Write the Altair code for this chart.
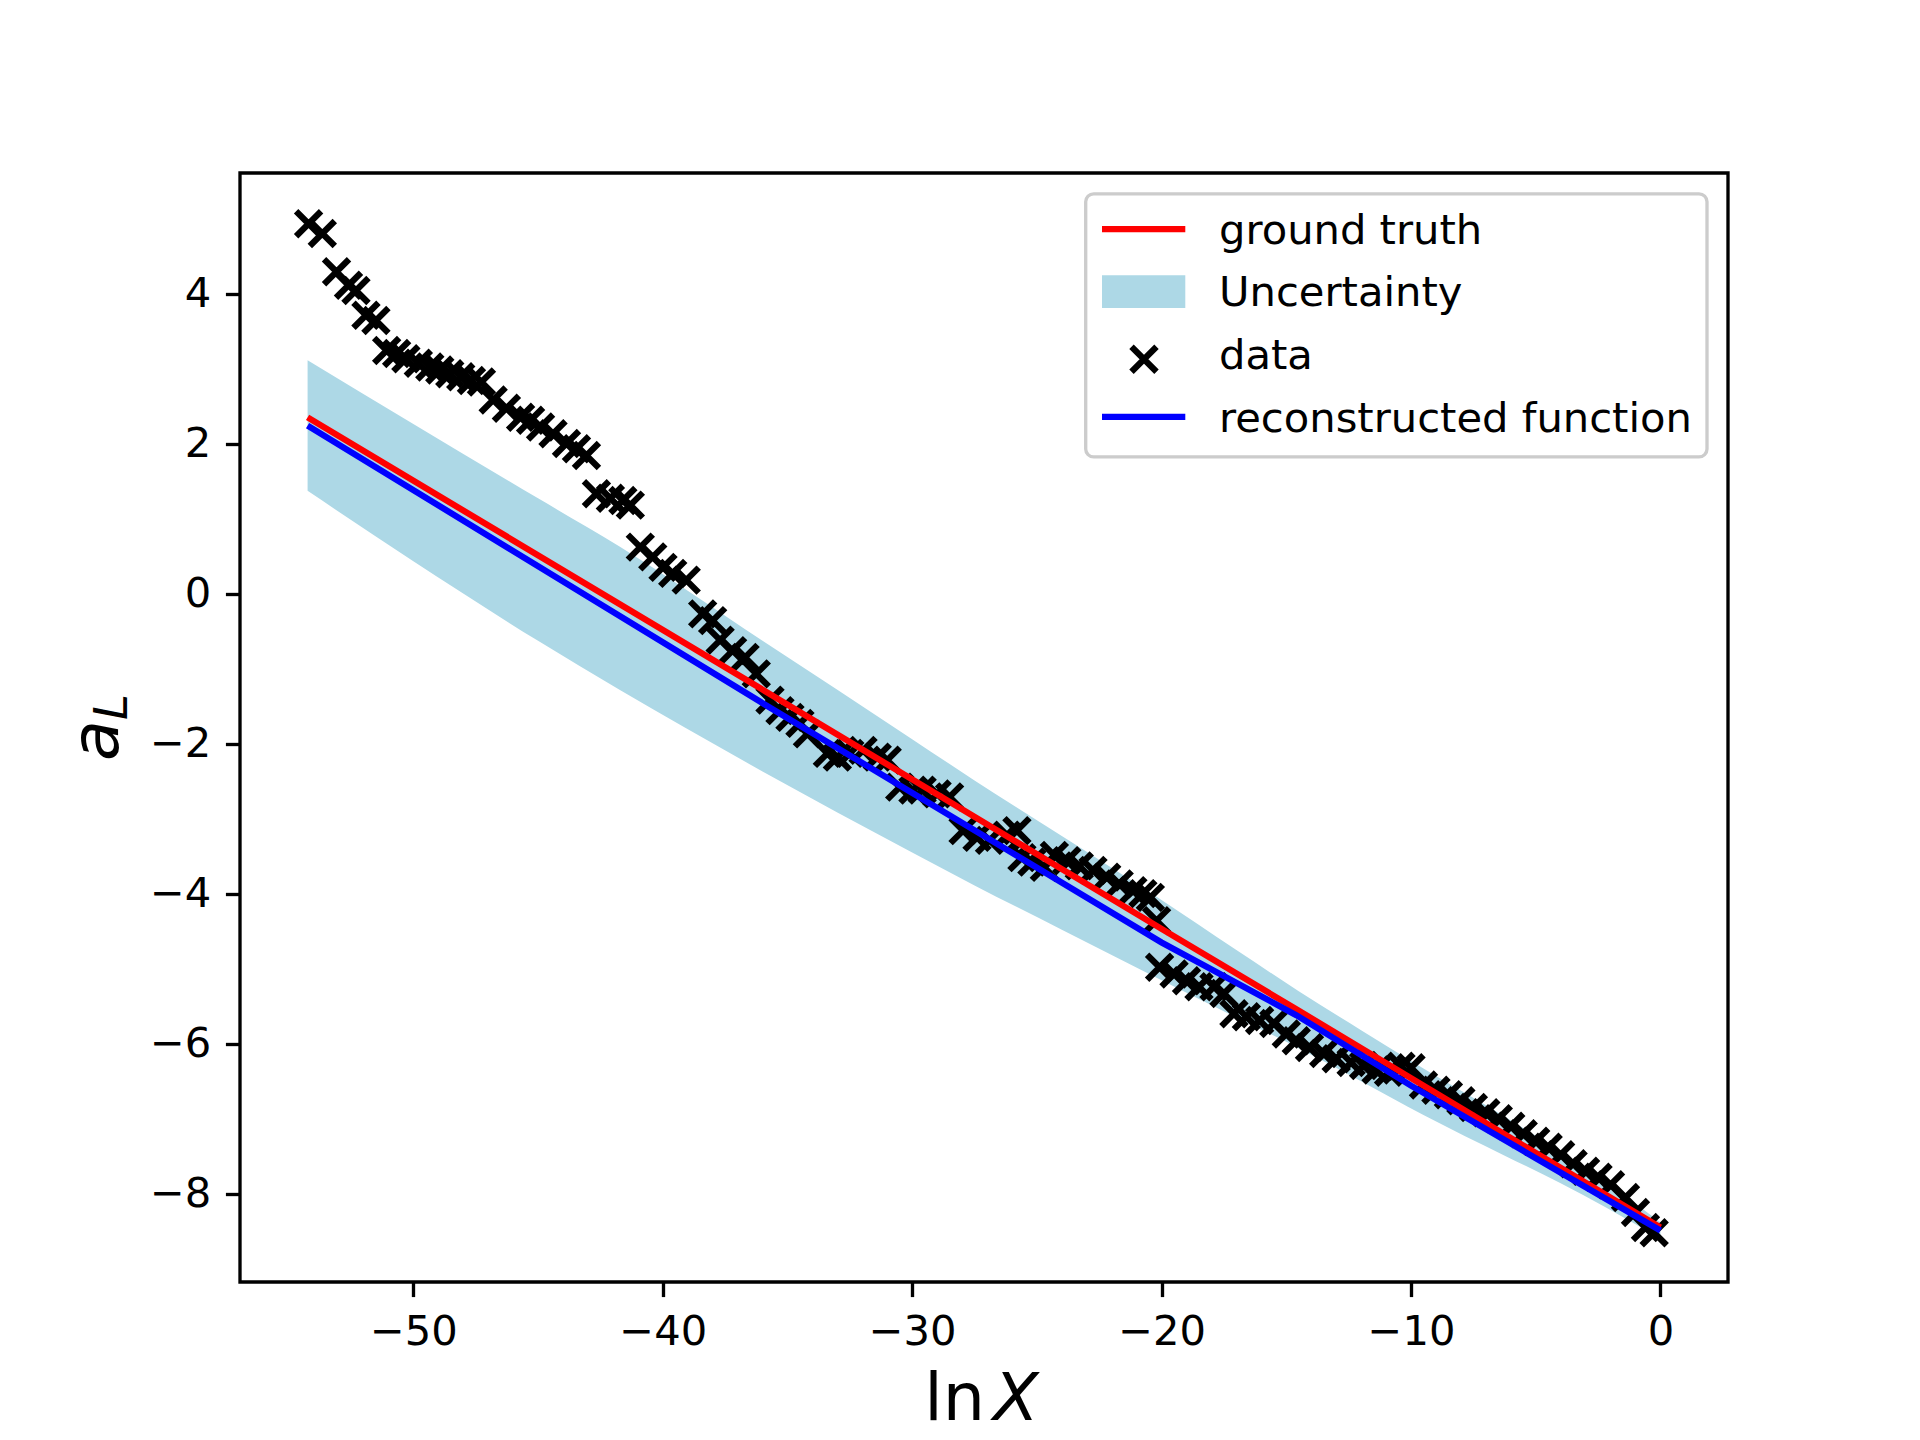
import altair as alt
import pandas as pd

# ---------------- data ----------------
data_x = [-54.20, -53.65, -53.08, -52.60, -52.30, -51.90, -51.50, -51.07, -50.67, -50.30,
          -49.80, -49.34, -48.94, -48.54, -48.10, -47.67, -47.27, -46.80, -46.27, -45.70,
          -45.30, -44.90, -44.40, -43.86, -43.46, -43.06, -42.66, -42.10, -41.60, -41.30,
          -40.90, -40.40, -39.99, -39.60, -39.06, -38.40, -38.00, -37.70, -37.20, -36.70,
          -36.25, -35.70, -35.30, -34.90, -34.50, -34.20, -33.40, -33.00, -32.50, -31.97,
          -31.40, -31.00, -30.50, -29.97, -29.60, -29.00, -28.50, -27.96, -27.40, -26.90,
          -26.20, -25.80, -25.60, -25.20, -24.70, -24.30, -23.80, -23.30, -22.75, -22.20,
          -21.70, -21.15, -20.75, -20.45, -20.20, -20.08, -19.50, -19.00, -18.50, -17.90,
          -17.50, -17.10, -16.60, -16.07, -15.50, -15.00, -14.60, -14.07, -13.50, -13.00,
          -12.40, -11.90, -11.40, -10.90, -10.40, -10.00, -9.50, -9.00, -8.50, -8.00,
          -7.50, -7.00, -6.50, -6.00, -5.50, -5.00, -4.50, -4.00, -3.50, -3.00,
          -2.50, -2.00, -1.40, -1.00, -0.60, -0.25]
data_y = [4.93, 4.80, 4.29, 4.11, 4.04, 3.71, 3.64, 3.24, 3.20, 3.13,
          3.07, 3.02, 2.98, 2.93, 2.89, 2.84, 2.82, 2.58, 2.47, 2.35,
          2.31, 2.22, 2.13, 2.00, 1.93, 1.84, 1.33, 1.27, 1.24, 1.18,
          0.62, 0.49, 0.35, 0.27, 0.18, -0.27, -0.36, -0.62, -0.76, -0.85,
          -1.07, -1.42, -1.56, -1.65, -1.73, -1.87, -2.13, -2.18, -2.13, -2.09,
          -2.18, -2.22, -2.58, -2.62, -2.62, -2.67, -2.71, -3.16, -3.25, -3.29,
          -3.22, -3.16, -3.52, -3.58, -3.65, -3.49, -3.56, -3.63, -3.69, -3.78,
          -3.87, -3.96, -4.00, -4.05, -4.36, -4.98, -5.07, -5.16, -5.24, -5.24,
          -5.33, -5.60, -5.64, -5.69, -5.73, -5.87, -5.96, -6.05, -6.13, -6.20,
          -6.25, -6.29, -6.35, -6.38, -6.30, -6.32, -6.55, -6.62, -6.68, -6.76,
          -6.85, -6.92, -7.00, -7.10, -7.20, -7.30, -7.38, -7.48, -7.60, -7.70,
          -7.78, -7.88, -8.05, -8.25, -8.45, -8.52]

line_x = [-54.24, -36.0, -20.0, -14.6, -10.0, 0.0]
truth_y = [2.35, -1.28, -4.47, -5.54, -6.46, -8.45]
recon_y = [2.24, -1.46, -4.65, -5.62, -6.56, -8.49]

band_x = [-54.24, -50.0, -45.0, -41.7, -36.0, -30.0, -27.5, -24.0, -20.2, -17.0,
          -14.5, -12.0, -9.5, -6.2, -4.0, -2.2, 0.0]
band_lo = [1.37, 0.43, -0.63, -1.29, -2.37, -3.45, -3.89, -4.48, -5.12, -5.65,
           -6.06, -6.50, -6.95, -7.50, -7.86, -8.18, -8.60]
band_hi = [3.11, 2.26, 1.27, 0.62, -0.63, -1.94, -2.49, -3.23, -4.04, -4.75,
           -5.30, -5.82, -6.33, -6.98, -7.44, -7.84, -8.38]

x_ticks = [-50, -40, -30, -20, -10, 0]
y_ticks = [-8, -6, -4, -2, 0, 2, 4]
series_names = ["ground truth", "Uncertainty", "data", "reconstructed function"]

# ---------------- styling ----------------
FONT = "DejaVu Sans"
PT = 300 / 72.0
W, H = 1488, 1109
LW = 1.5 * PT
XPATH = "M-1,-1L1,1M-1,1L1,-1"

pts_df = pd.DataFrame({"x": data_x, "y": data_y})
truth_df = pd.DataFrame({"x": line_x, "y": truth_y})
recon_df = pd.DataFrame({"x": line_x, "y": recon_y})
band_df = pd.DataFrame({"x": band_x, "lo": band_lo, "hi": band_hi})

xs = alt.Scale(domain=[-56.95, 2.71], nice=False, zero=False)
ys = alt.Scale(domain=[-9.177, 5.607], nice=False, zero=False)
xax = alt.Axis(values=x_ticks, title=None, grid=False, domain=False, format="d")
yax = alt.Axis(values=y_ticks, title=None, grid=False, domain=False, format="d")

band = alt.Chart(band_df).mark_area(color="#add8e6", opacity=1, interpolate="monotone").encode(
    x=alt.X("x:Q", scale=xs, axis=xax),
    y=alt.Y("lo:Q", scale=ys, axis=yax),
    y2="hi:Q",
)
points = alt.Chart(pts_df).mark_point(
    shape=XPATH, size=625, filled=False, color="black", strokeWidth=LW,
    opacity=1, strokeCap="butt"
).encode(x=alt.X("x:Q", scale=xs), y=alt.Y("y:Q", scale=ys))
truth = alt.Chart(truth_df).mark_line(color="red", strokeWidth=LW).encode(
    x=alt.X("x:Q", scale=xs), y=alt.Y("y:Q", scale=ys))
recon = alt.Chart(recon_df).mark_line(color="blue", strokeWidth=LW).encode(
    x=alt.X("x:Q", scale=xs), y=alt.Y("y:Q", scale=ys))

one = alt.Data(values=[{"k": 1}])

# ---------------- legend (drawn in pixels, inside the plot) ----------------
lx0, lx1 = 862.0, 945.3
frame = alt.Chart(one).mark_rect(
    fill="white", fillOpacity=0.8, stroke="#cccccc", strokeWidth=0.8 * PT, cornerRadius=8
).encode(x=alt.value(845.7), x2=alt.value(1467), y=alt.value(20.8), y2=alt.value(283.9))
leg_truth = alt.Chart(one).mark_rule(color="red", strokeWidth=LW).encode(
    x=alt.value(lx0), x2=alt.value(lx1), y=alt.value(56.2))
leg_band = alt.Chart(one).mark_rect(color="#add8e6").encode(
    x=alt.value(lx0), x2=alt.value(lx1), y=alt.value(102.2), y2=alt.value(134.9))
leg_pt = alt.Chart(one).mark_point(
    shape=XPATH, size=625, filled=False, color="black", strokeWidth=LW, opacity=1,
    strokeCap="butt"
).encode(x=alt.value(904), y=alt.value(186.2))
leg_recon = alt.Chart(one).mark_rule(color="blue", strokeWidth=LW).encode(
    x=alt.value(lx0), x2=alt.value(lx1), y=alt.value(243.9))

leg_texts = []
for i, name in enumerate(series_names):
    leg_texts.append(
        alt.Chart(one).mark_text(
            align="left", baseline="alphabetic", font=FONT, fontSize=10 * PT, color="black"
        ).encode(x=alt.value(979), y=alt.value(70.5 + i * 62.8), text=alt.value(name))
    )

# ---------------- axis titles (mathtext-like) ----------------
TS = 16 * PT
xt_ln = alt.Chart(one).mark_text(
    align="right", baseline="alphabetic", font=FONT, fontSize=TS, color="black"
).encode(x=alt.value(745), y=alt.value(1247), text=alt.value("ln"))
xt_X = alt.Chart(one).mark_text(
    align="left", baseline="alphabetic", font=FONT, fontSize=TS, fontStyle="italic", color="black"
).encode(x=alt.value(753), y=alt.value(1247), text=alt.value("X"))
yt_a = alt.Chart(one).mark_text(
    align="left", baseline="alphabetic", font=FONT, fontSize=TS, fontStyle="italic",
    angle=270, color="black"
).encode(x=alt.value(-122), y=alt.value(588), text=alt.value("a"))
yt_L = alt.Chart(one).mark_text(
    align="left", baseline="alphabetic", font=FONT, fontSize=TS * 0.7, fontStyle="italic",
    angle=270, color="black"
).encode(x=alt.value(-113), y=alt.value(547), text=alt.value("L"))

chart = alt.layer(
    band, points, truth, recon,
    frame, leg_truth, leg_band, leg_pt, leg_recon, *leg_texts,
    xt_ln, xt_X, yt_a, yt_L,
).properties(
    width=W, height=H,
    autosize=alt.AutoSizeParams(type="none"),
    padding={"left": 232, "top": 165, "right": 184, "bottom": 150},
    background="white",
).configure_view(
    stroke="black", strokeWidth=0.8 * PT
).configure_axis(
    labelFont=FONT, labelFontSize=10 * PT, labelColor="black",
    tickColor="black", tickSize=3.5 * PT, tickWidth=0.8 * PT,
    labelPadding=3.5 * PT,
)

chart.save("out.html", embed_options={"renderer": "svg", "actions": False})
